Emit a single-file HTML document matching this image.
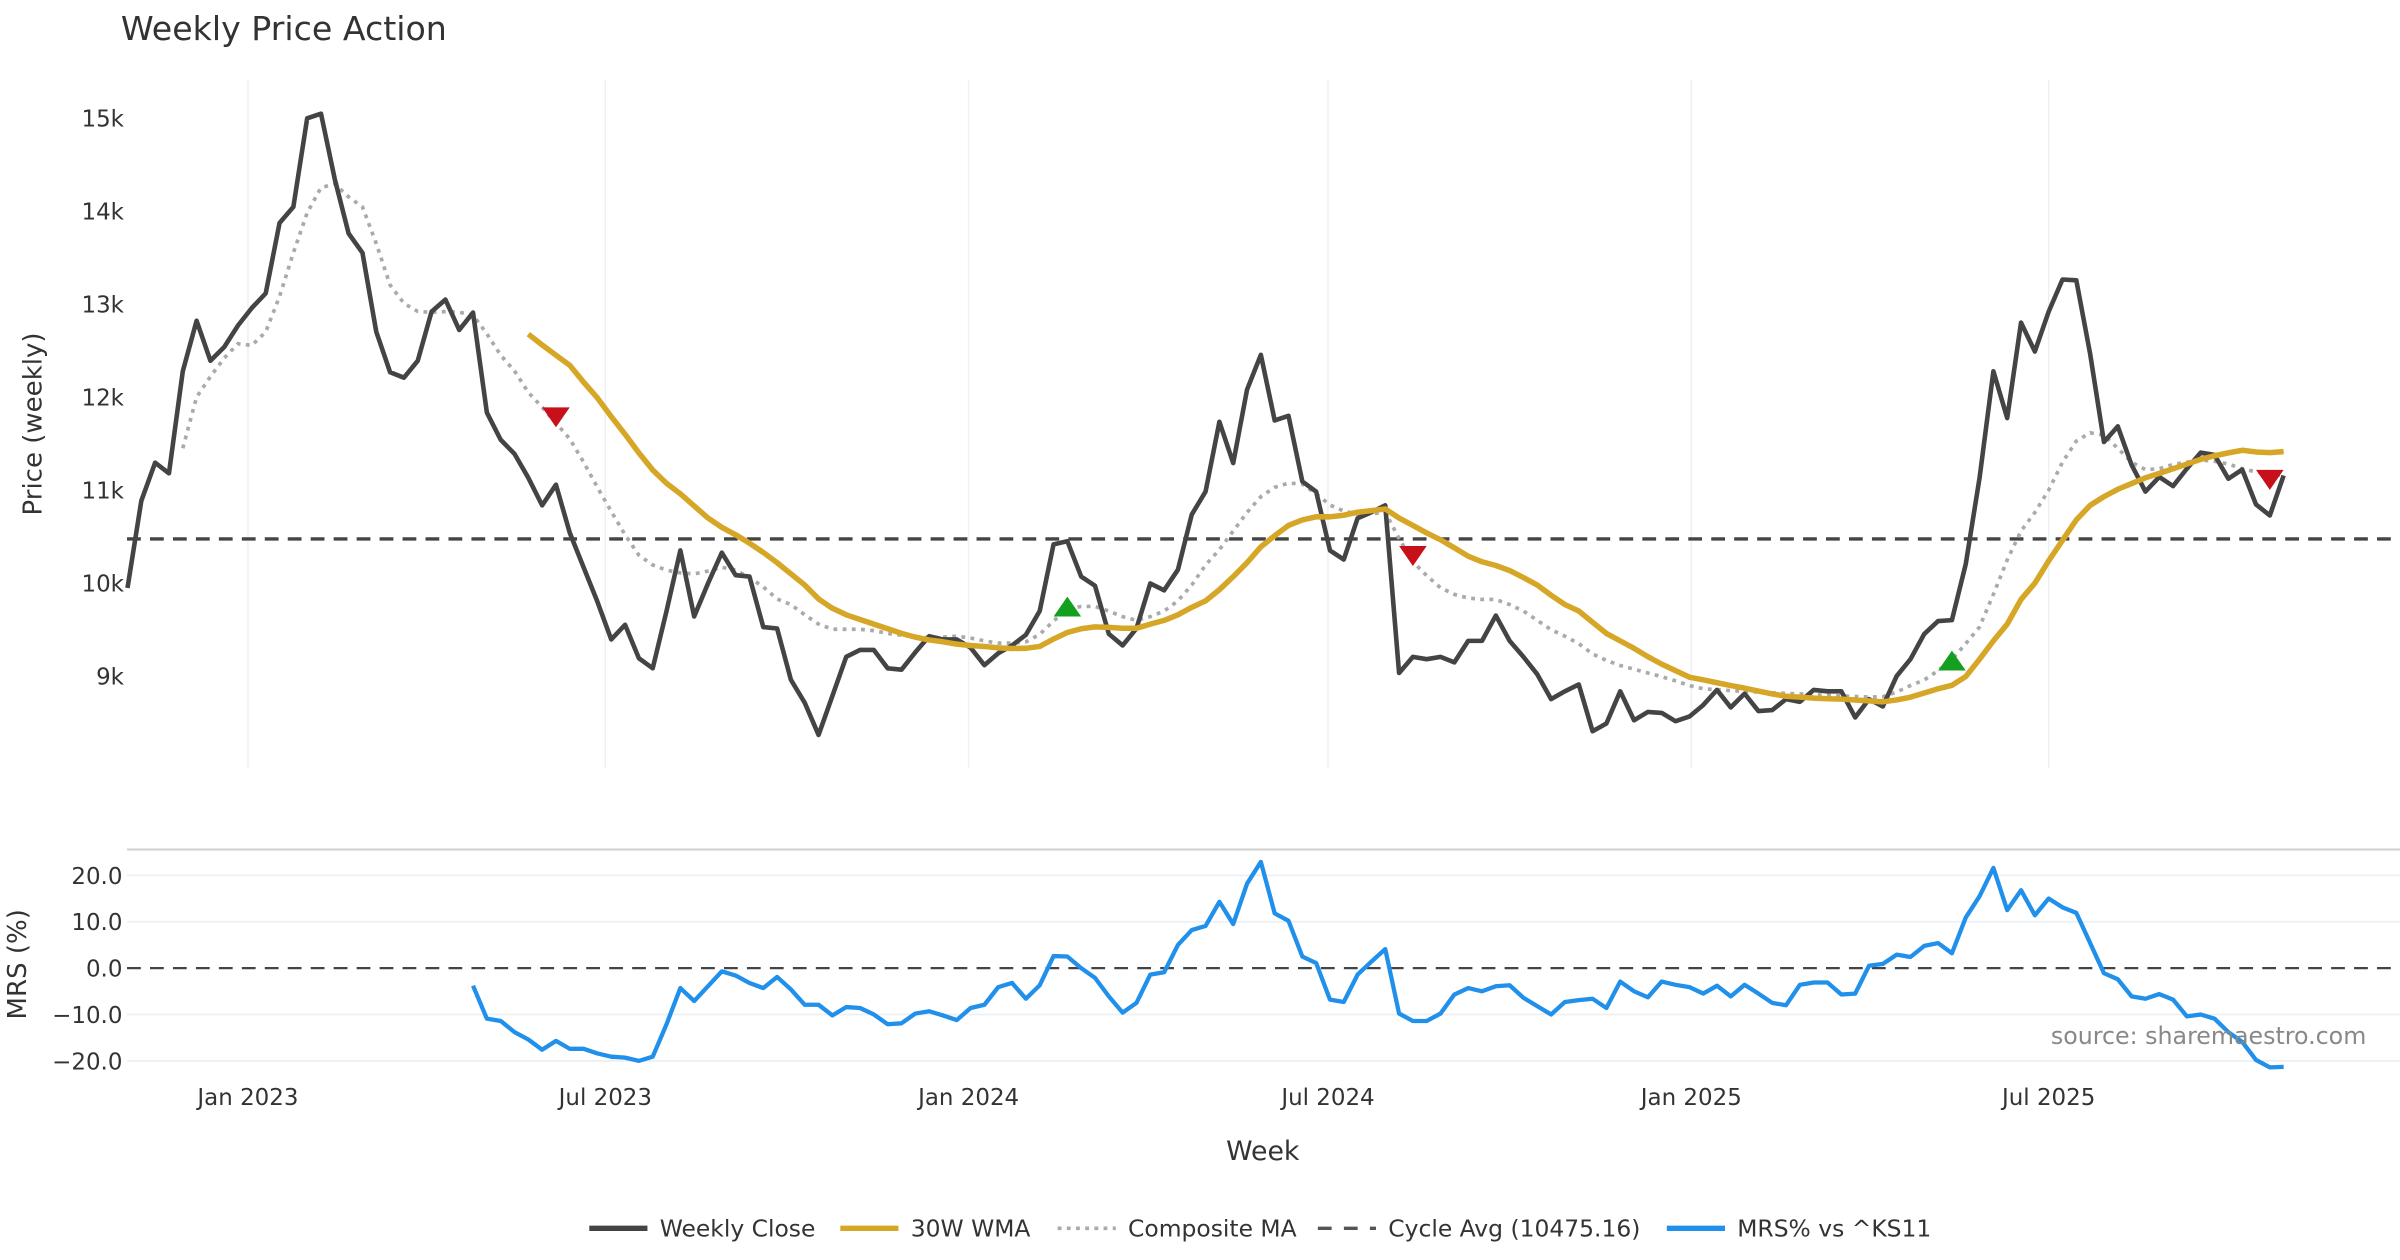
<!DOCTYPE html>
<html><head><meta charset="utf-8"><title>Weekly Price Action</title>
<style>
html,body{margin:0;padding:0;background:#fff;}
svg{display:block;font-family:"DejaVu Sans","Liberation Sans",sans-serif;}
</style></head>
<body>
<svg id="chart" width="2400" height="1260" viewBox="0 0 1568 823.2" xmlns="http://www.w3.org/2000/svg">
<text x="79" y="26" font-size="21.7" fill="#333">Weekly Price Action</text>
<g id="main"></g>
<g id="mrs"></g>
<text x="825" y="758" font-size="17.5" fill="#333" text-anchor="middle">Week</text>
<text transform="translate(27,277) rotate(-90)" font-size="17" fill="#333" text-anchor="middle">Price (weekly)</text>
<text transform="translate(17,630) rotate(-90)" font-size="17" fill="#333" text-anchor="middle">MRS (%)</text>
<text x="1546" y="682" font-size="15.5" fill="#888" text-anchor="end">source: sharemaestro.com</text>
<g id="legend"></g>
</svg>
<script>
const closeValues = [9948,10885,11295,11181,12277,12820,12390,12538,12770,12958,
13115,13870,14043,14995,15045,14339,13757,13550,12701,12267,
12208,12390,12918,13047,12721,12908,11833,11541,11389,11132,
10836,11058,10540,10170,9800,9395,9553,9193,9085,9701,
10352,9642,9997,10328,10086,10071,9528,9513,8961,8714,
8369,8788,9208,9282,9282,9085,9070,9257,9430,9395,
9395,
9307,9119,9247,9331,9445,9701,10417,10451,10071,9972,
9455,9331,9513,9997,9923,10145,10737,10984,11734,11290,
12079,12454,11749,11798,11093,10984,10352,10254,10698,10762,
10836,9035,9208,9183,9208,9149,9380,9380,9652,9380,
9208,9020,8754,8838,8912,8409,8492,8838,8527,8616,
8606,8517,8566,
8690,8853,8665,8813,8626,8636,8754,8725,8853,8838,
8838,8557,8754,8675,9001,9183,9455,9593,9603,10205,
11132,12277,11774,12800,12489,12918,13263,13254,12464,11517,
11685,11270,10984,11142,11043,11231,11403,11379,11122,11221,
10846,10728,11157];
const wmaStart = 29;
const wmaValues = [12676,12560,12450,12341,12160,11990,11790,11600,11400,11216,
11073,10960,10830,10700,10600,10520,10430,10330,10220,10100,
9980,9830,9730,9660,9610,9560,9510,9460,9420,9390,
9370,9345,9330,9320,9305,9298,9300,9320,9400,9470,
9510,9530,9525,9515,9515,9560,9600,9660,9740,9810,
9930,10070,10220,10390,10510,10620,10680,10713,10713,10730,
10762,10780,10797,10700,10620,10540,10466,10380,10290,10230,
10190,10135,10060,9980,9870,9770,9701,9580,9460,9380,
9300,9210,9130,9060,8990,8961,8930,8900,8872,8840,
8810,8785,8775,8765,8758,8754,8745,8735,8725,8745,
8775,8820,8865,8902,8996,9183,9380,9560,9825,10000,
10240,10460,10680,10836,10930,11009,11070,11132,11180,11230,
11280,11330,11369,11400,11428,11410,11403,11413];
const compStart = 4;
const compValues = [11450,12000,12220,12420,12573,12555,12700,13080,13550,13980,
14250,14290,14150,14043,13648,13204,13007,12920,12910,12918,
12912,12880,12680,12450,12280,12050,11890,11720,11550,11300,
11030,10770,10520,10300,10195,10140,10110,10100,10130,10170,
10140,10060,9960,9830,9770,9660,9560,9505,9505,9504,
9490,9460,9440,9425,9415,9420,9430,9410,9380,9356,
9356,9370,9450,9593,9720,9750,9750,9700,9640,9600,
9640,9700,9810,9980,10195,10360,10560,10760,10930,11030,
11075,11065,10960,10840,10775,10740,10745,10762,10480,10230,
10080,9950,9880,9840,9825,9825,9770,9700,9600,9500,
9430,9350,9240,9170,9115,9075,9035,8995,8950,8900,
8865,8855,8845,8838,8830,8822,8815,8810,8800,8795,
8789,8782,8776,8780,8830,8900,8960,9060,9180,9350,
9530,9880,10250,10560,10760,11000,11300,11527,11616,11590,
11450,11300,11220,11230,11275,11300,11325,11310,11280,11230,
11195,11175,11157];
const mrsStart = 25;
const mrsValues = [-3.8,-10.9,-11.4,-13.8,-15.4,-17.6,-15.7,-17.4,-17.4,-18.4,
-19.1,-19.3,-20.0,-19.1,-12.1,-4.3,-7.1,-3.9,-0.7,-1.6,
-3.2,-4.3,-1.9,-4.6,-7.9,-7.9,-10.2,-8.4,-8.6,-10.0,
-12.1,-11.9,-9.8,-9.3,-10.2,-11.2,-8.6,-7.9,-4.1,-3.2,
-6.6,-3.7,2.6,2.5,0.0,-2.1,-6.1,-9.6,-7.5,-1.4,
-0.9,5.0,8.2,9.1,14.3,9.5,18.2,22.9,11.8,10.2,
2.5,1.1,-6.8,-7.3,-1.4,1.4,4.1,-9.8,-11.4,-11.4,
-9.8,-5.7,-4.3,-5.0,-3.9,-3.7,-6.4,-8.2,-10.0,-7.3,
-6.9,-6.6,-8.6,-2.9,-5.0,-6.3,-2.9,-3.6,-4.1,-5.5,
-3.8,-6.1,-3.6,-5.5,-7.5,-8.0,-3.6,-3.1,-3.1,-5.7,
-5.5,0.5,0.9,2.9,2.4,4.8,5.4,3.2,10.9,15.5,
21.6,12.5,16.8,11.4,15.0,13.1,11.9,5.4,-1.1,-2.4,
-6.1,-6.6,-5.6,-6.8,-10.4,-10.0,-10.9,-13.8,-15.9,-19.8,
-21.4,-21.3];
const cycleAvg = 10475.16;
const buyIdx = [68,132];
const buyVals = [9740,9160];
const sellIdx = [31,93,155];
const sellVals = [11790,10300,11118];
const priceTicks = [9000,10000,11000,12000,13000,14000,15000];
const priceTickLabels = ["9k","10k","11k","12k","13k","14k","15k"];
const mrsTicks = [20,10,0,-10,-20];
const mrsTickLabels = ["20.0","10.0","0.0","\u221210.0","\u221220.0"];
const dateTickLabels = ["Jan 2023","Jul 2023","Jan 2024","Jul 2024","Jan 2025","Jul 2025"];
const dateTicks = ["2023-01-01","2023-07-01","2024-01-01","2024-07-01","2025-01-01","2025-07-01"];

const NS = "http://www.w3.org/2000/svg";
const startMs = Date.UTC(2022,10,1);
const DAY = 86400000;
const X0 = 83.3, PXDAY = 1.29;
function xDate(ms){ return X0 + (ms - startMs)/DAY*PXDAY; }
function xWeek(i){ return xDate(startMs + i*7*DAY); }
function yPrice(v){ return 381 - (v-10000)*0.0608; }
function yMrs(v){ return 632.5 - v*3.03; }
function mk(tag, attrs, parent){ const e=document.createElementNS(NS,tag); for(const k in attrs) e.setAttribute(k,attrs[k]); parent.appendChild(e); return e; }
function pathFrom(vals, start, yf){ return vals.map((v,j)=>(j?"L":"M")+xWeek(start+j).toFixed(2)+","+yf(v).toFixed(2)).join(""); }

const mainG = document.getElementById("main");
const mrsG = document.getElementById("mrs");
const legendG = document.getElementById("legend");

dateTicks.forEach((d,k)=>{
  const p=d.split("-"); const x=xDate(Date.UTC(+p[0],+p[1]-1,+p[2]));
  const g=mk("line",{x1:x,x2:x,y1:52,y2:502,stroke:"#edf1f5","stroke-width":1},mainG);
  
  
  const t=mk("text",{x:x,y:722,"font-size":15,fill:"#333","text-anchor":"middle"},mrsG);
  t.textContent=dateTickLabels[k];
  
  
});
priceTicks.forEach((v,k)=>{
  const t=mk("text",{x:81,y:yPrice(v)+5.5,"font-size":15,fill:"#333","text-anchor":"end"},mainG);
  t.textContent=priceTickLabels[k];
  
  
});
const ca=mk("line",{x1:83,x2:1568,y1:yPrice(cycleAvg),y2:yPrice(cycleAvg),stroke:"#444","stroke-width":2.2,"stroke-dasharray":"9,6"},mainG);


const cp=mk("path",{d:pathFrom(compValues,compStart,yPrice),fill:"none",stroke:"#aaa","stroke-width":2.4,"stroke-dasharray":"2.5,3.5"},mainG);


const cl=mk("path",{d:pathFrom(closeValues,0,yPrice),fill:"none",stroke:"#444","stroke-width":3,"stroke-linejoin":"round"},mainG);


const wm=mk("path",{d:pathFrom(wmaValues,wmaStart,yPrice),fill:"none",stroke:"#D6A627","stroke-width":3.6,"stroke-linejoin":"round"},mainG);


buyIdx.forEach((ix,k)=>{
  const x=xWeek(ix), y=yPrice(buyVals[k]);
  const m=mk("polygon",{points:`${x-9},${y+6} ${x+9},${y+6} ${x},${y-7}`,fill:"#14A01E"},mainG);
  
  
});
sellIdx.forEach((ix,k)=>{
  const x=xWeek(ix), y=yPrice(sellVals[k]);
  const m=mk("polygon",{points:`${x-9},${y-6} ${x+9},${y-6} ${x},${y+7}`,fill:"#C8101A"},mainG);
  
  
});

const mrsBorder=mk("line",{x1:83,x2:1568,y1:555,y2:555,stroke:"#cfcfcf","stroke-width":1.3},mrsG);


mrsTicks.forEach((v,k)=>{
  const y=yMrs(v);
  if(v!==0){
    const g=mk("line",{x1:83,x2:1568,y1:y,y2:y,stroke:"#eceff3","stroke-width":1.2},mrsG);
    
    
  }
  const t=mk("text",{x:80,y:y+5.5,"font-size":15,fill:"#333","text-anchor":"end"},mrsG);
  t.textContent=mrsTickLabels[k];
  
  
});
const zl=mk("line",{x1:83,x2:1568,y1:yMrs(0),y2:yMrs(0),stroke:"#444","stroke-width":1.5,"stroke-dasharray":"9,6"},mrsG);


const ml=mk("path",{d:pathFrom(mrsValues,mrsStart,yMrs),fill:"none",stroke:"#2190EA","stroke-width":2.8,"stroke-linejoin":"round"},mrsG);



const legItems=[
 {label:"Weekly Close",x:385,stroke:"#444",dash:null,w:3.5,name:"legend-weekly-close"},
 {label:"30W WMA",x:549,stroke:"#D6A627",dash:null,w:3.5,name:"legend-wma"},
 {label:"Composite MA",x:691,stroke:"#aaa",dash:"2.5,3.5",w:2.4,name:"legend-composite-ma"},
 {label:"Cycle Avg (10475.16)",x:861,stroke:"#555",dash:"9,8",w:2.2,name:"legend-cycle-avg"},
 {label:"MRS% vs ^KS11",x:1089,stroke:"#2190EA",dash:null,w:3.5,name:"legend-mrs"}];
legItems.forEach(it=>{
  const g=mk("g",{},legendG);
  
  
  const a={x1:it.x,x2:it.x+38,y1:802.5,y2:802.5,stroke:it.stroke,"stroke-width":it.w};
  if(it.dash) a["stroke-dasharray"]=it.dash;
  mk("line",a,g);
  const t=mk("text",{x:it.x+46,y:808,"font-size":15.3,fill:"#333"},g);
  t.textContent=it.label;
});
</script>
</body></html>
